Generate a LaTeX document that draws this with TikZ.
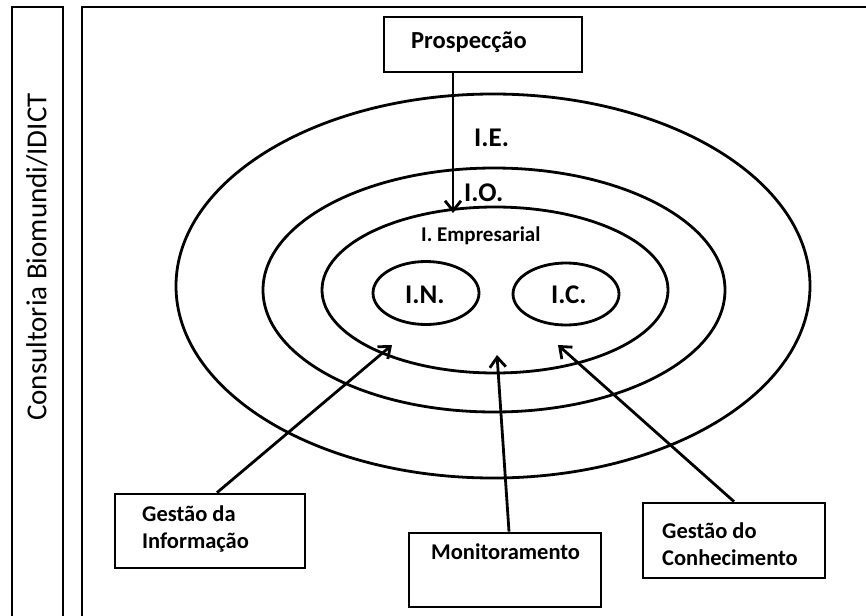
\documentclass[tikz,border=0pt]{standalone}
\usepackage{fontspec}
\setmainfont{Carlito}
\usetikzlibrary{shapes.geometric,arrows.meta}
\begin{document}
\begin{tikzpicture}[x=1pt,y=-1pt,
    ring/.style={ellipse,draw,line width=2.8pt,inner sep=0pt},
    box/.style={draw,line width=2.8pt,inner sep=0pt},
    lbl/.style={inner sep=0pt,font=\bfseries\fontsize{27}{32}\selectfont},
    txt/.style={inner sep=0pt,align=left,font=\bfseries\fontsize{22.5}{27}\selectfont},
    arr/.style={line width=2.8pt,-{Straight Barb[length=10pt,width=16pt,line width=2.8pt]}}]
    \useasboundingbox (0,0) rectangle (866,615);
    % frames
    \draw[line width=2.8pt] (12,620) |- (63,7) -- (63,620);
    \draw[line width=2.8pt] (82,620) |- (870,7);
    \node[rotate=90,inner sep=0pt,font=\fontsize{29}{34}\selectfont] (consult) at (37,257) {Consultoria Biomundi/IDICT};
    % rings
    \node[ring,minimum width=634pt,minimum height=384pt] (ie) at (493,286) {};
    \node[ring,minimum width=462pt,minimum height=244pt] (io) at (494,290) {};
    \node[ring,minimum width=346pt,minimum height=166pt] (emp) at (495,290) {};
    \node[ring,minimum width=106pt,minimum height=63pt] (in) at (426,293) {};
    \node[ring,minimum width=106pt,minimum height=62pt] (ic) at (566,294) {};
    \node[lbl,anchor=base west] (ie-t) at (474,146) {I.E.};
    \node[lbl,anchor=base west] (io-t) at (464,201) {I.O.};
    \node[inner sep=0pt,anchor=base west,font=\bfseries\fontsize{21}{25}\selectfont] (emp-t) at (421,241) {I. Empresarial};
    \node[lbl,anchor=base west] (in-t) at (405,303) {I.N.};
    \node[lbl,anchor=base west] (ic-t) at (551,303) {I.C.};
    % boxes
    \node[box,minimum width=198pt,minimum height=55pt] (pros) at (483,44.5) {};
    \node[inner sep=0pt,anchor=base west,font=\bfseries\fontsize{24.5}{29}\selectfont] (pros-t) at (411,49) {Prospecção};
    \node[box,minimum width=190pt,minimum height=74pt] (gi) at (210,531) {};
    \node[txt,anchor=north west] (gi-t) at (142,506) {Gestão da\\Informação};
    \node[box,minimum width=192pt,minimum height=74pt] (mon) at (505,570) {};
    \node[txt,anchor=base west] (mon-t) at (431,559) {Monitoramento};
    \node[box,minimum width=182pt,minimum height=75pt] (gc) at (734,540.5) {};
    \node[txt,anchor=north west] (gc-t) at (662,523) {Gestão do\\Conhecimento};
    % arrows
    \coordinate (ie-tip) at (453,213);
    \coordinate (in-tip) at (392,345);
    \coordinate (mo-tip) at (497,355);
    \coordinate (ic-tip) at (558,345);
    \draw[arr] (ie-tip |- pros.south) -- (ie-tip);
    \draw[arr] ([xshift=7pt]gi.north) -- (in-tip);
    \draw[arr] ([xshift=4pt]mon.north) -- (mo-tip);
    \draw[arr] (gc.north) -- (ic-tip);
\end{tikzpicture}
\end{document}
